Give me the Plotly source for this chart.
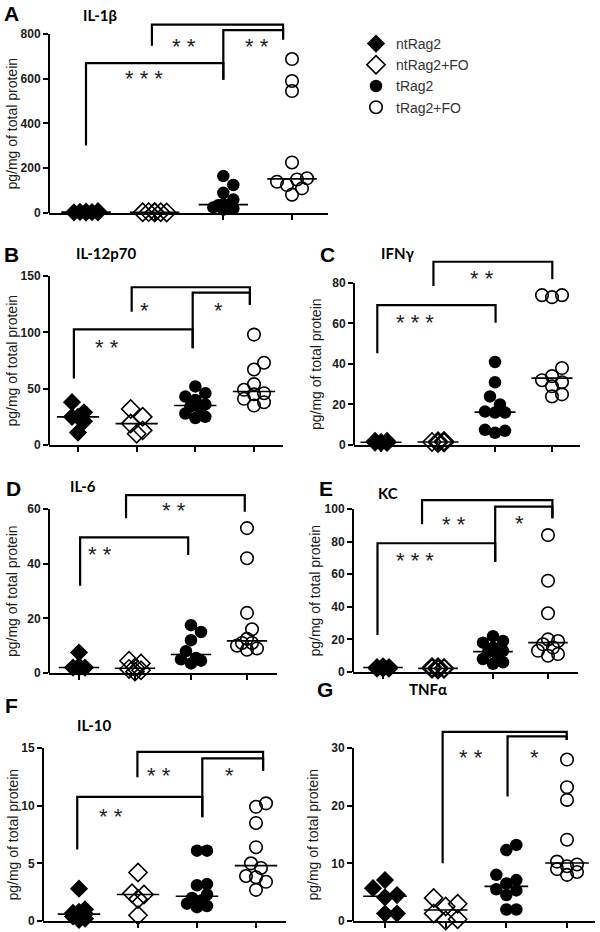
import numpy as np
import plotly.graph_objects as go

W, H = 600, 932

groups = ["ntRag2", "ntRag2+FO", "tRag2", "tRag2+FO"]

# ---- data (pg/mg of total protein) ----
il1b_ntRag2 = [3, 5, 2, 6, 4, 8, 3]
il1b_ntRag2_FO = [2, 3, 4, 3, 2, 5]
il1b_tRag2 = [165, 125, 90, 60, 40, 35, 30, 25, 20, 15]
il1b_tRag2_FO = [688, 590, 545, 226, 155, 150, 140, 125, 110, 82]
il1b_ticks = [0, 200, 400, 600, 800]

il12_ntRag2 = [38, 25, 11, 29, 25, 21]
il12_ntRag2_FO = [32, 25, 19, 13, 10]
il12_tRag2 = [52, 46, 43, 40, 36, 34, 31, 28, 25, 24]
il12_tRag2_FO = [98, 73, 67, 54, 49, 46, 45, 41, 38, 35]
il12_ticks = [0, 50, 100, 150]

ifng_ntRag2 = [1, 2, 1.5, 1, 2, 1.2]
ifng_ntRag2_FO = [1.5, 2, 1, 1.2, 1.8]
ifng_tRag2 = [41, 31, 24, 20, 16.5, 16, 16, 7.5, 7, 6]
ifng_tRag2_FO = [74, 73, 74, 38, 34, 32, 31, 29, 25, 24]
ifng_ticks = [0, 20, 40, 60, 80]

il6_ntRag2 = [7.5, 2.5, 2, 2, 2]
il6_ntRag2_FO = [4.5, 3.5, 2, 1.5, 1, 0.5]
il6_tRag2 = [17.5, 15, 12, 8, 5.5, 5, 4.5, 3.5]
il6_tRag2_FO = [53, 42, 22, 16, 12.5, 11, 11, 10, 9, 8.5]
il6_ticks = [0, 20, 40, 60]

kc_ntRag2 = [3, 2, 3, 2.5, 2, 3.5, 2, 3]
kc_ntRag2_FO = [2, 3, 2.5, 1.5, 2, 3, 2.5, 2]
kc_tRag2 = [22, 19, 18, 15, 13, 12, 10, 8, 6, 5]
kc_tRag2_FO = [84, 56, 36, 20, 19, 17, 15, 13, 11, 10]
kc_ticks = [0, 20, 40, 60, 80, 100]

il10_ntRag2 = [2.8, 1.0, 0.8, 0.7, 0.6, 0.5, 0.4, 0.2, 0.1]
il10_ntRag2_FO = [4.2, 2.4, 2.3, 1.9, 0.5]
il10_tRag2 = [6.1, 6.1, 3.2, 3.1, 2.3, 2.0, 1.8, 1.5, 1.3, 1.2]
il10_tRag2_FO = [10.2, 9.9, 8.5, 6.4, 5.0, 4.6, 3.9, 3.8, 3.4, 2.7]
il10_ticks = [0, 5, 10, 15]

tnfa_ntRag2 = [7.1, 5.7, 4.5, 4.1, 1.3, 1.3]
tnfa_ntRag2_FO = [4.0, 3.0, 2.5, 1.3, 0.3, 0.1]
tnfa_tRag2 = [13.2, 12.3, 8.0, 7.1, 6.5, 5.5, 5.3, 4.5, 2.0, 2.0]
tnfa_tRag2_FO = [28, 23.2, 21, 14.1, 10.3, 9.8, 9.5, 9, 8.5, 8]
tnfa_ticks = [0, 10, 20, 30]

# significance brackets: (x_left, y_left, y_top, x_right, y_right, stars, star_x, star_y)
il1b_sig = [(1.0, 302, 670, 3.0, 596, "***", 1.85, 626),
            (1.96, 748, 842, 3.87, 775, "**", 2.42, 771),
            (3.0, 596, 817, 3.87, 775, "**", 3.49, 771)]
il12_sig = [(0.93, 59, 102.7, 2.955, 85.8, "**", 1.5, 91.7),
            (1.915, 118.3, 140, 3.93, 124.3, "*", 2.14, 125),
            (2.955, 85.8, 135.2, 3.93, 124.3, "*", 3.39, 125)]
ifng_sig = [(0.935, 45.3, 69.1, 3.01, 60.4, "***", 1.60, 63.7),
            (1.92, 78.5, 90.5, 4.005, 81.8, "**", 2.77, 85.1)]
il6_sig = [(1.02, 31.9, 49.6, 2.95, 43.2, "**", 1.38, 45.6),
           (1.84, 56.6, 65.1, 3.96, 59.0, "**", 2.69, 61.5)]
kc_sig = [(0.90, 22.7, 79.0, 3.04, 67.7, "***", 1.58, 71.8),
          (1.71, 90.6, 105.5, 4.08, 94.3, "**", 2.29, 94.3),
          (3.04, 67.7, 101.4, 4.08, 94.3, "*", 3.49, 94.9)]
il10_sig = [(0.97, 6.2, 10.77, 3.09, 9.0, "**", 1.55, 9.6),
            (1.99, 12.46, 14.66, 4.12, 13.03, "**", 2.36, 13.15),
            (3.09, 9.0, 14.1, 4.12, 13.03, "*", 3.55, 13.15)]
tnfa_sig = [(1.95, 10.0, 32.8, 3.995, 31.4, "**", 2.42, 29.4),
            (3.02, 21.6, 32.0, 3.995, 31.4, "*", 3.47, 29.4)]

# ---- panel geometry (pixels) ----
panels = [
    dict(letter="A", title="IL-1β", data=[il1b_ntRag2, il1b_ntRag2_FO, il1b_tRag2, il1b_tRag2_FO],
         ticks=il1b_ticks, sig=il1b_sig, left=49, right=328, c1=86, c4=292, y0px=213, ymaxpx=34, ytop=870,
         letter_xy=(11, 13), title_xy=(100, 15), ytitle_x=12),
    dict(letter="B", title="IL-12p70", data=[il12_ntRag2, il12_ntRag2_FO, il12_tRag2, il12_tRag2_FO],
         ticks=il12_ticks, sig=il12_sig, left=49, right=283, c1=78, c4=254, y0px=445, ymaxpx=276, ytop=152,
         letter_xy=(11, 255), title_xy=(106, 253), ytitle_x=12),
    dict(letter="C", title="IFNγ", data=[ifng_ntRag2, ifng_ntRag2_FO, ifng_tRag2, ifng_tRag2_FO],
         ticks=ifng_ticks, sig=ifng_sig, left=354, right=580, c1=381, c4=552, y0px=445, ymaxpx=283, ytop=93,
         letter_xy=(327, 255), title_xy=(397, 253), ytitle_x=316),
    dict(letter="D", title="IL-6", data=[il6_ntRag2, il6_ntRag2_FO, il6_tRag2, il6_tRag2_FO],
         ticks=il6_ticks, sig=il6_sig, left=49, right=277, c1=79, c4=247, y0px=673, ymaxpx=509, ytop=67,
         letter_xy=(13, 488), title_xy=(83, 486), ytitle_x=12),
    dict(letter="E", title="KC", data=[kc_ntRag2, kc_ntRag2_FO, kc_tRag2, kc_tRag2_FO],
         ticks=kc_ticks, sig=kc_sig, left=353, right=578, c1=383, c4=548, y0px=672, ymaxpx=509, ytop=108,
         letter_xy=(326, 488), title_xy=(388, 493), ytitle_x=314),
    dict(letter="F", title="IL-10", data=[il10_ntRag2, il10_ntRag2_FO, il10_tRag2, il10_tRag2_FO],
         ticks=il10_ticks, sig=il10_sig, left=43, right=286, c1=79, c4=256, y0px=921, ymaxpx=748, ytop=15.4,
         letter_xy=(11, 705), title_xy=(94, 725), ytitle_x=12),
    dict(letter="G", title="TNFα", data=[tnfa_ntRag2, tnfa_ntRag2_FO, tnfa_tRag2, tnfa_tRag2_FO],
         ticks=tnfa_ticks, sig=tnfa_sig, left=353, right=595, c1=385, c4=567, y0px=921, ymaxpx=748, ytop=34,
         letter_xy=(325, 689), title_xy=(428, 689), ytitle_x=312),
]

styles = [
    dict(symbol="diamond", size=14, color="black", line=dict(width=0)),
    dict(symbol="diamond-open", size=14, color="black", line=dict(width=1.6)),
    dict(symbol="circle", size=12.5, color="black", line=dict(width=0)),
    dict(symbol="circle-open", size=12.5, color="black", line=dict(width=1.6)),
]
diams = [15, 15, 12.5, 12.5]
spread = [0.2, 0.2, 0.2, 0.22]


def swarm(vals, ppu, ppc, diam, maxw):
    vals = np.asarray(vals, float)
    ypx = vals * ppu
    order = np.argsort(vals)
    step = diam * 0.4
    cands = [0.0]
    for k in range(1, 14):
        cands += [k * step, -k * step]
    placed = []
    offs = np.zeros(len(vals))
    for i in order:
        best, bestc, bestd = None, 0.0, -1
        for c in cands:
            if abs(c) > maxw + 1e-9:
                continue
            dmin = min([np.hypot(c - px, ypx[i] - py) for px, py in placed], default=1e9)
            if dmin >= diam * 0.8:
                best = c
                break
            if dmin > bestd:
                bestd, bestc = dmin, c
        if best is None:
            best = bestc
        offs[i] = best
        placed.append((best, ypx[i]))
    return offs / ppc


fig = go.Figure()
shapes, annotations = [], []
TXT = "#1a1a1a"

for n, p in enumerate(panels, start=1):
    sfx = "" if n == 1 else str(n)
    xa, ya = "x" + sfx, "y" + sfx
    ymax = p["ticks"][-1]
    ppu = (p["y0px"] - p["ymaxpx"]) / ymax
    ppc = (p["c4"] - p["c1"]) / 3.0
    xr0 = 1 - (p["c1"] - p["left"]) / ppc
    xr1 = 4 + (p["right"] - p["c4"]) / ppc
    top_px = p["y0px"] - p["ytop"] * ppu
    fig.layout["xaxis" + sfx] = dict(
        domain=[p["left"] / W, p["right"] / W], range=[xr0, xr1], anchor=ya,
        showline=True, linecolor="black", linewidth=2, ticks="outside", ticklen=5, tickwidth=2,
        tickcolor="black", tickvals=[1, 2, 3, 4], showticklabels=False, showgrid=False, zeroline=False,
        automargin=False, fixedrange=True)
    fig.layout["yaxis" + sfx] = dict(
        domain=[1 - p["y0px"] / H, 1 - top_px / H], range=[0, p["ytop"]], anchor=xa,
        showline=False, ticks="outside", ticklen=5, tickwidth=2, tickcolor="black",
        tickvals=p["ticks"], ticktext=[str(t) for t in p["ticks"]],
        tickfont=dict(family="Liberation Sans", size=12, color=TXT, weight="bold"),
        showgrid=False, zeroline=False, automargin=False, fixedrange=True)
    # y axis line (only up to top tick)
    shapes.append(dict(type="line", xref=xa + " domain", yref=ya, x0=0, x1=0, y0=0, y1=ymax,
                       line=dict(color="black", width=2)))
    # points
    med_x, med_y = [], []
    for k, (g, vals) in enumerate(zip(groups, p["data"])):
        offs = swarm(vals, ppu, ppc, diams[k], spread[k] * ppc)
        fig.add_trace(go.Scatter(
            x=(k + 1) + offs, y=vals, mode="markers", xaxis=xa, yaxis=ya, name=g,
            legendgroup=g, showlegend=(n == 1), cliponaxis=False,
            marker=styles[k], hoverinfo="y"))
        m = float(np.median(vals))
        med_x += [k + 1 - 0.36, k + 1 + 0.36, None]
        med_y += [m, m, None]
    fig.add_trace(go.Scatter(x=med_x, y=med_y, mode="lines", xaxis=xa, yaxis=ya,
                             line=dict(color="black", width=1.6), showlegend=False,
                             hoverinfo="skip", cliponaxis=False))
    # brackets
    for (xl, yl, yt, xr, yr, st, sx, sy) in p["sig"]:
        shapes.append(dict(type="path", xref=xa, yref=ya,
                           path=f"M {xl},{yl} L {xl},{yt} L {xr},{yt} L {xr},{yr}",
                           line=dict(color="black", width=2.2)))
        annotations.append(dict(xref=xa, yref=ya, x=sx, y=sy, text=" ".join(st), showarrow=False,
                                font=dict(family="Liberation Sans", size=22, color="#222"),
                                xanchor="center", yanchor="middle", yshift=-6))
    # letters and titles
    lx, ly = p["letter_xy"]
    annotations.append(dict(xref="paper", yref="paper", x=lx / W, y=1 - ly / H, text=p["letter"],
                            showarrow=False, xanchor="center", yanchor="middle",
                            font=dict(family="Liberation Sans", size=21, color="black", weight="bold")))
    tx, ty = p["title_xy"]
    annotations.append(dict(xref="paper", yref="paper", x=tx / W, y=1 - ty / H, text=p["title"],
                            showarrow=False, xanchor="center", yanchor="middle",
                            font=dict(family="Lato", size=15, color="black", weight="bold")))
    annotations.append(dict(xref="paper", yref="paper", x=p["ytitle_x"] / W,
                            y=1 - (p["y0px"] + p["ymaxpx"]) / 2 / H, text="pg/mg of total protein",
                            textangle=-90, showarrow=False, xanchor="center", yanchor="middle",
                            font=dict(family="Liberation Sans", size=14, color=TXT)))

fig.update_layout(
    width=W, height=H, margin=dict(l=0, r=0, t=0, b=0, autoexpand=False),
    paper_bgcolor="white", plot_bgcolor="white",
    shapes=shapes, annotations=annotations,
    showlegend=True, hovermode=False,
    legend=dict(x=356 / W, y=1 - 28 / H, xanchor="left", yanchor="top",
                font=dict(family="Liberation Sans", size=14, color="#333"),
                bgcolor="rgba(0,0,0,0)", borderwidth=0, tracegroupgap=0, itemsizing="trace"),
)

fig.write_html("out.html", config={"displayModeBar": False},
               post_script="document.body.style.margin='0';document.body.style.overflow='hidden';")
